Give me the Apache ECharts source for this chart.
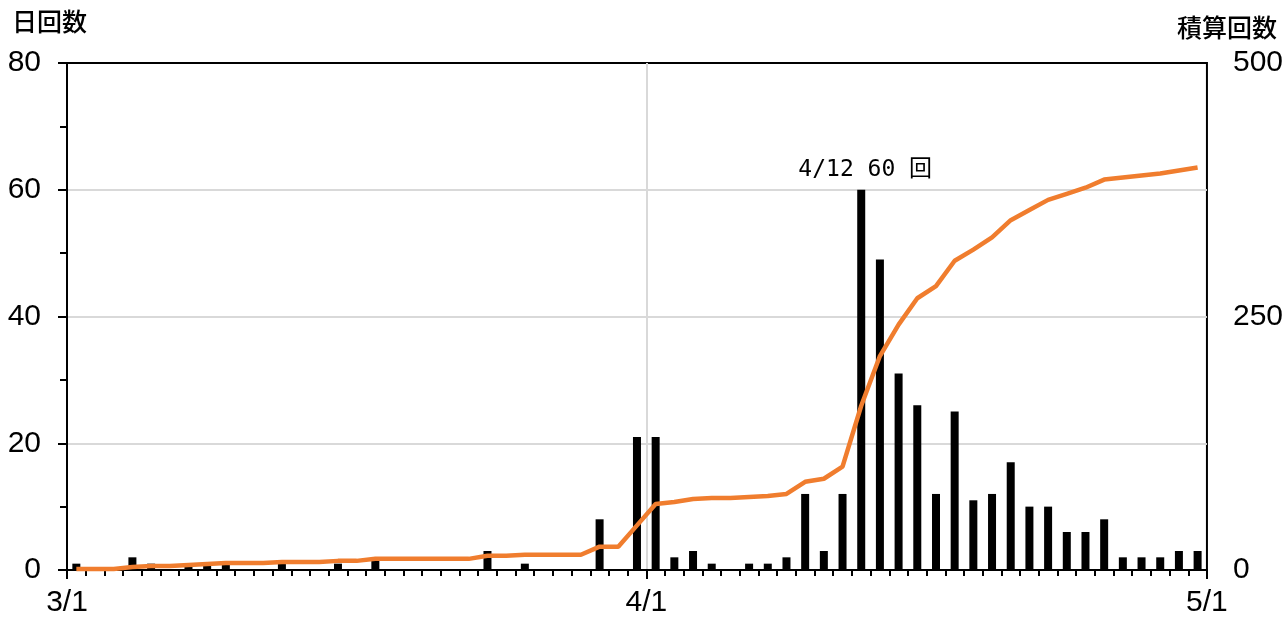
<!DOCTYPE html>
<html>
<head>
<meta charset="utf-8">
<script src="https://cdn.jsdelivr.net/npm/echarts@6/dist/echarts.min.js"></script>
<style>
html,body{margin:0;padding:0;background:#fff;}
#chart{width:1286px;height:619px;}
</style>
</head>
<body>
<div id="chart"></div>
<script>
// ---- data ----
const dates = ['3/1','3/2','3/3','3/4','3/5','3/6','3/7','3/8','3/9','3/10',
  '3/11','3/12','3/13','3/14','3/15','3/16','3/17','3/18','3/19','3/20',
  '3/21','3/22','3/23','3/24','3/25','3/26','3/27','3/28','3/29','3/30','3/31',
  '4/1','4/2','4/3','4/4','4/5','4/6','4/7','4/8','4/9','4/10',
  '4/11','4/12','4/13','4/14','4/15','4/16','4/17','4/18','4/19','4/20',
  '4/21','4/22','4/23','4/24','4/25','4/26','4/27','4/28','4/29','4/30'];
const daily = [1,0,0,2,1,0,1,1,1,0,
  0,1,0,0,1,0,2,0,0,0,
  0,0,3,0,1,0,0,0,8,0,21,
  21,2,3,1,0,1,1,2,12,3,
  12,60,49,31,26,12,25,11,12,17,
  10,10,6,6,8,2,2,2,3,3];
const cumulative = [1,1,1,3,4,4,5,6,7,7,
  7,8,8,8,9,9,11,11,11,11,
  11,11,14,14,15,15,15,15,23,23,44,
  65,67,70,71,71,72,73,75,87,90,
  102,162,211,242,268,280,305,316,328,345,
  355,365,371,377,385,387,389,391,394,397];
const monthLabels = ['3/1','4/1','5/1'];
const leftTicks = [0,20,40,60,80];
const rightTicks = [0,250,500];
const peakDate = '4/12';
const peakText = '4/12 60 回';
const leftTitle = '日回数';
const rightTitle = '積算回数';

// ---- build ----
const monthPos = {};
monthLabels.forEach(l => {
  const idx = dates.indexOf(l);
  monthPos[idx >= 0 ? idx : dates.length] = l;
});
const peakIdx = dates.indexOf(peakDate);
const barData = daily.map((v, i) => {
  const item = { value: [i + 0.5, v] };
  if (i === peakIdx) {
    item.label = {
      show: true, position: 'top', distance: 8, offset: [4, 0],
      formatter: peakText,
      fontFamily: '"DejaVu Sans Mono", "Noto Sans CJK JP", monospace',
      fontSize: 23, color: '#000'
    };
  }
  return item;
});
const lineData = cumulative.map((v, i) => [i + 0.5, v]);

const labelFont = '"Liberation Sans", Arial, sans-serif';
const chart = echarts.init(document.getElementById('chart'), null, { renderer: 'canvas' });
chart.setOption({
  animation: false,
  backgroundColor: '#fff',
  grid: { left: 67, right: 79, top: 63, bottom: 49, show: true, borderColor: '#000', borderWidth: 2, backgroundColor: 'transparent' },
  graphic: [
    { type: 'text', left: 12, top: 9, style: { text: leftTitle, font: '500 25px "Noto Sans CJK JP", sans-serif', fill: '#000' } },
    { type: 'text', right: 9, top: 15, style: { text: rightTitle, font: '500 25px "Noto Sans CJK JP", sans-serif', fill: '#000' } }
  ],
  xAxis: [
    {
      type: 'value', min: 0, max: dates.length, interval: 1, position: 'bottom',
      axisLine: { show: true, lineStyle: { color: '#000', width: 2 } },
      axisTick: { show: true, length: 6, lineStyle: { color: '#000', width: 2 } },
      axisLabel: { show: false },
      splitLine: { show: false }
    },
    {
      type: 'value', min: 0, max: dates.length, interval: 31, position: 'bottom',
      axisLine: { show: false },
      axisTick: { show: true, length: 9, lineStyle: { color: '#000', width: 2 } },
      axisLabel: {
        show: true, margin: 18, fontSize: 30, fontFamily: labelFont, color: '#000',
        formatter: v => monthPos[Math.round(v)] || ''
      },
      splitLine: { show: true, showMinLine: false, showMaxLine: false, lineStyle: { color: '#d9d9d9', width: 2 } }
    }
  ],
  yAxis: [
    {
      type: 'value', min: leftTicks[0], max: leftTicks[leftTicks.length - 1], interval: leftTicks[1] - leftTicks[0],
      position: 'left',
      axisLine: { show: true, lineStyle: { color: '#000', width: 2 } },
      axisTick: { show: true, length: 9, lineStyle: { color: '#000', width: 2 } },
      minorTick: { show: true, splitNumber: 2, length: 7, lineStyle: { color: '#000', width: 2 } },
      axisLabel: { margin: 26, fontSize: 30, fontFamily: labelFont, color: '#000' },
      splitLine: { show: true, showMinLine: false, showMaxLine: false, lineStyle: { color: '#d9d9d9', width: 2 } }
    },
    {
      type: 'value', min: rightTicks[0], max: rightTicks[rightTicks.length - 1], interval: rightTicks[1] - rightTicks[0],
      position: 'right',
      axisLine: { show: true, lineStyle: { color: '#000', width: 2 } },
      axisTick: { show: false },
      axisLabel: { margin: 26, fontSize: 30, fontFamily: labelFont, color: '#000' },
      splitLine: { show: false }
    }
  ],
  series: [
    {
      type: 'bar', xAxisIndex: 0, yAxisIndex: 0, data: barData,
      barWidth: 8, itemStyle: { color: '#000' }, z: 3
    },
    {
      type: 'line', xAxisIndex: 0, yAxisIndex: 1, data: lineData,
      symbol: 'none', lineStyle: { color: '#F07D2E', width: 4.5 }, itemStyle: { color: '#F07D2E' }, z: 4
    }
  ]
});
</script>
</body>
</html>
